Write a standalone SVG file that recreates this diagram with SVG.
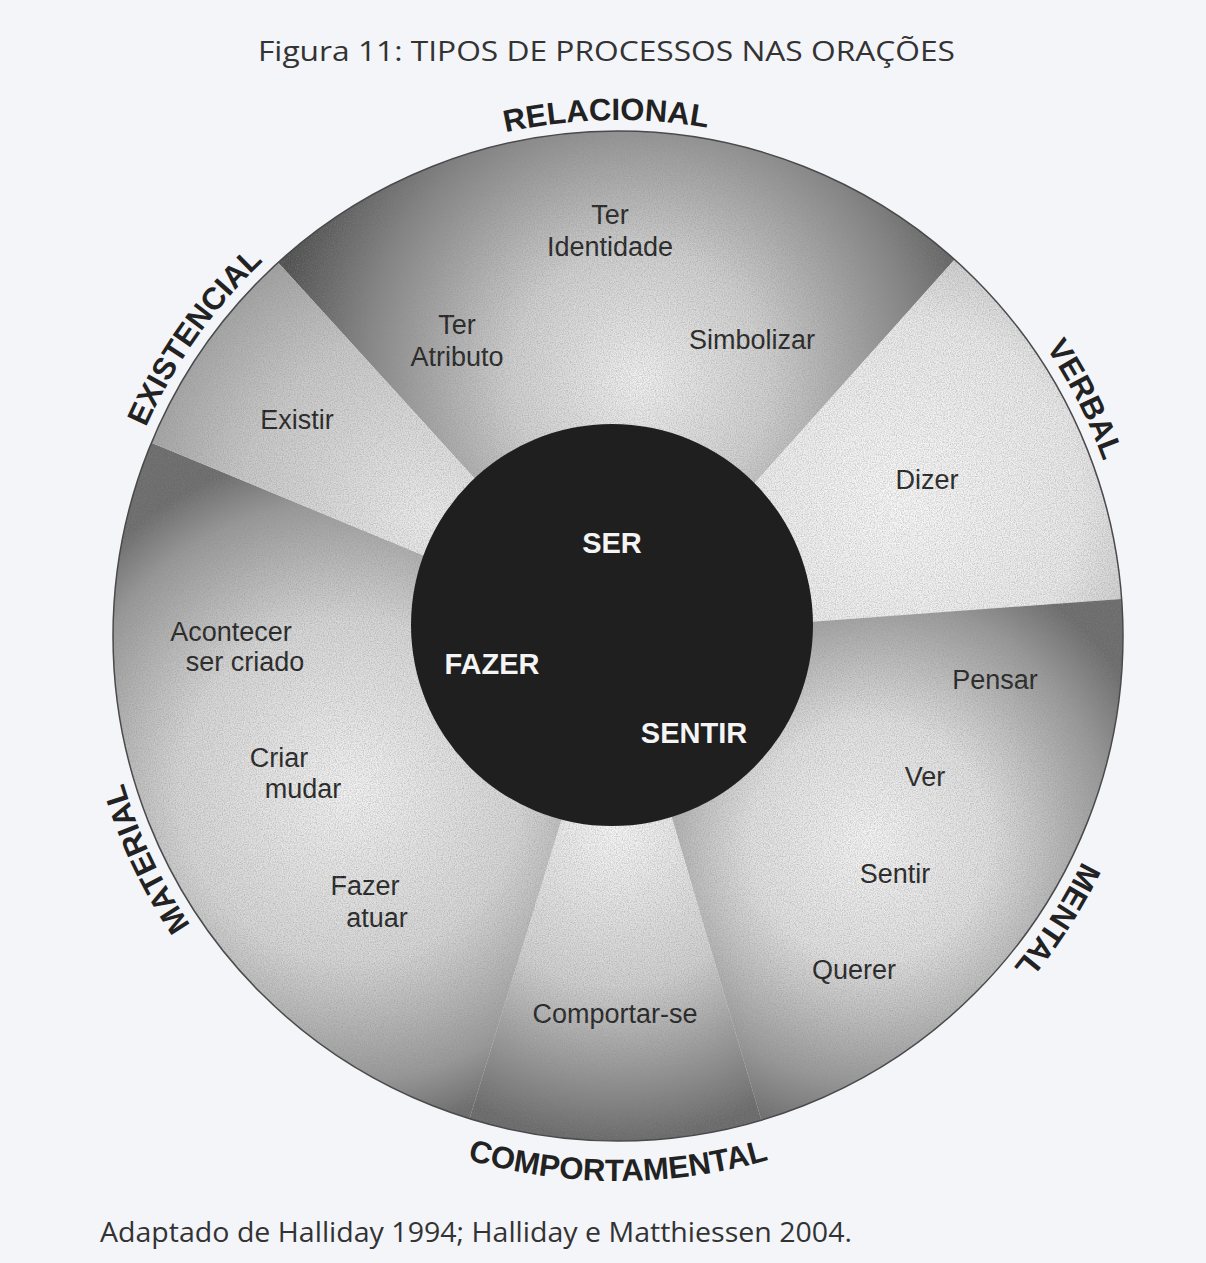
<svg xmlns="http://www.w3.org/2000/svg" xmlns:xlink="http://www.w3.org/1999/xlink" width="1206" height="1263" viewBox="0 0 1206 1263">
<style>
.cap{font-family:"Open Sans","Liberation Sans",sans-serif;fill:#333;}
.ring{font-family:"Liberation Sans",Arial,sans-serif;font-weight:bold;font-size:31px;fill:#222;}
.lbl{font-family:"Liberation Sans",Arial,sans-serif;font-size:27px;fill:#232323;text-anchor:middle;}
.core{font-family:"Liberation Sans",Arial,sans-serif;font-weight:bold;font-size:29px;fill:#f4f4f4;text-anchor:middle;}
</style>
<defs>
<radialGradient id="gRel" gradientUnits="userSpaceOnUse" cx="640" cy="380" r="370">
<stop offset="0" stop-color="#f0f0f0"/><stop offset="0.35" stop-color="#cfcfcf"/><stop offset="0.75" stop-color="#858585"/><stop offset="1" stop-color="#505050"/>
</radialGradient>
<radialGradient id="gVer" gradientUnits="userSpaceOnUse" cx="900" cy="500" r="300">
<stop offset="0" stop-color="#f7f7f7"/><stop offset="0.6" stop-color="#e9e9e9"/><stop offset="1" stop-color="#bcbcbc"/>
</radialGradient>
<radialGradient id="gMen" gradientUnits="userSpaceOnUse" cx="870" cy="840" r="300">
<stop offset="0" stop-color="#f4f4f4"/><stop offset="0.4" stop-color="#e0e0e0"/><stop offset="0.8" stop-color="#999"/><stop offset="1" stop-color="#6c6c6c"/>
</radialGradient>
<radialGradient id="gCom" gradientUnits="userSpaceOnUse" cx="615" cy="830" r="310">
<stop offset="0" stop-color="#f6f6f6"/><stop offset="0.5" stop-color="#d0d0d0"/><stop offset="1" stop-color="#6a6a6a"/>
</radialGradient>
<radialGradient id="gMat" gradientUnits="userSpaceOnUse" cx="350" cy="790" r="340">
<stop offset="0" stop-color="#f2f2f2"/><stop offset="0.5" stop-color="#d6d6d6"/><stop offset="0.85" stop-color="#999"/><stop offset="1" stop-color="#6c6c6c"/>
</radialGradient>
<radialGradient id="gExi" gradientUnits="userSpaceOnUse" cx="430" cy="520" r="320">
<stop offset="0" stop-color="#ececec"/><stop offset="0.6" stop-color="#c8c8c8"/><stop offset="1" stop-color="#9a9a9a"/>
</radialGradient>
<filter id="grain" x="0" y="0" width="100%" height="100%">
<feTurbulence type="fractalNoise" baseFrequency="0.85" numOctaves="2" seed="4"/>
<feColorMatrix type="matrix" values="0 0 0 0 0.25  0 0 0 0 0.25  0 0 0 0 0.25  1.6 0 0 0 -0.6"/>
</filter>
<clipPath id="disc"><circle cx="618" cy="636" r="505"/></clipPath>
<path id="cw" d="M1134,636 A516,516 0 1 1 102,636 A516,516 0 1 1 1134,636"/>
<path id="ccw" d="M73,636 A545,545 0 0 0 1163,636"/>
</defs>
<rect x="0" y="0" width="1206" height="1263" fill="#f3f5f9"/>
<text class="cap" x="258" y="61" font-size="28" textLength="697" lengthAdjust="spacingAndGlyphs">Figura 11: TIPOS DE PROCESSOS NAS ORAÇÕES</text>

<g id="relacional">
<path d="M618,636 L278.1,262.5 A505,505 0 0 1 954.6,259.5 Z" fill="url(#gRel)"/>
<text class="ring"><textPath xlink:href="#cw" href="#cw" startOffset="74.64%" text-anchor="middle">RELACIONAL</textPath></text>
<text class="lbl" x="610" y="224">Ter</text>
<text class="lbl" x="610" y="256">Identidade</text>
<text class="lbl" x="457" y="334">Ter</text>
<text class="lbl" x="457" y="366">Atributo</text>
<text class="lbl" x="752" y="349">Simbolizar</text>
</g>
<g id="verbal">
<path d="M618,636 L954.6,259.5 A505,505 0 0 1 1121.6,599 Z" fill="url(#gVer)"/>
<text class="ring"><textPath xlink:href="#cw" href="#cw" startOffset="92.53%" text-anchor="middle">VERBAL</textPath></text>
<text class="lbl" x="927" y="489">Dizer</text>
</g>
<g id="mental">
<path d="M618,636 L1121.6,599 A505,505 0 0 1 761.4,1120.2 Z" fill="url(#gMen)"/>
<text class="ring"><textPath xlink:href="#cw" href="#cw" startOffset="9.14%" text-anchor="middle">MENTAL</textPath></text>
<text class="lbl" x="995" y="689">Pensar</text>
<text class="lbl" x="925" y="786">Ver</text>
<text class="lbl" x="895" y="883">Sentir</text>
<text class="lbl" x="854" y="979">Querer</text>
</g>
<g id="comportamental">
<path d="M618,636 L761.4,1120.2 A505,505 0 0 1 469.5,1118.7 Z" fill="url(#gCom)"/>
<text class="ring"><textPath xlink:href="#ccw" href="#ccw" startOffset="50%" text-anchor="middle">COMPORTAMENTAL</textPath></text>
<text class="lbl" x="615" y="1023">Comportar-se</text>
</g>
<g id="material">
<path d="M618,636 L469.5,1118.7 A505,505 0 0 1 151.4,442.7 Z" fill="url(#gMat)"/>
<text class="ring"><textPath xlink:href="#cw" href="#cw" startOffset="42.97%" text-anchor="middle">MATERIAL</textPath></text>
<text class="lbl" x="231" y="641">Acontecer</text>
<text class="lbl" x="245" y="671">ser criado</text>
<text class="lbl" x="279" y="767">Criar</text>
<text class="lbl" x="303" y="798">mudar</text>
<text class="lbl" x="365" y="895">Fazer</text>
<text class="lbl" x="377" y="927">atuar</text>
</g>
<g id="existencial">
<path d="M618,636 L151.4,442.7 A505,505 0 0 1 278.1,262.5 Z" fill="url(#gExi)"/>
<text class="ring"><textPath xlink:href="#cw" href="#cw" startOffset="59.78%" text-anchor="middle">EXISTENCIAL</textPath></text>
<text class="lbl" x="297" y="429">Existir</text>
</g>

<rect x="100" y="120" width="1040" height="1040" fill="#000" filter="url(#grain)" clip-path="url(#disc)" opacity="0.55"/>
<circle cx="618" cy="636" r="505" fill="none" stroke="#4a4a4a" stroke-width="1.5"/>

<g id="centro">
<circle cx="612" cy="625" r="201" fill="#1f1f1f"/>
<text class="core" x="612" y="553">SER</text>
<text class="core" x="492" y="674">FAZER</text>
<text class="core" x="694" y="743">SENTIR</text>
</g>

<text class="cap" x="100" y="1242" font-size="27" textLength="752" lengthAdjust="spacingAndGlyphs">Adaptado de Halliday 1994; Halliday e Matthiessen 2004.</text>
</svg>
